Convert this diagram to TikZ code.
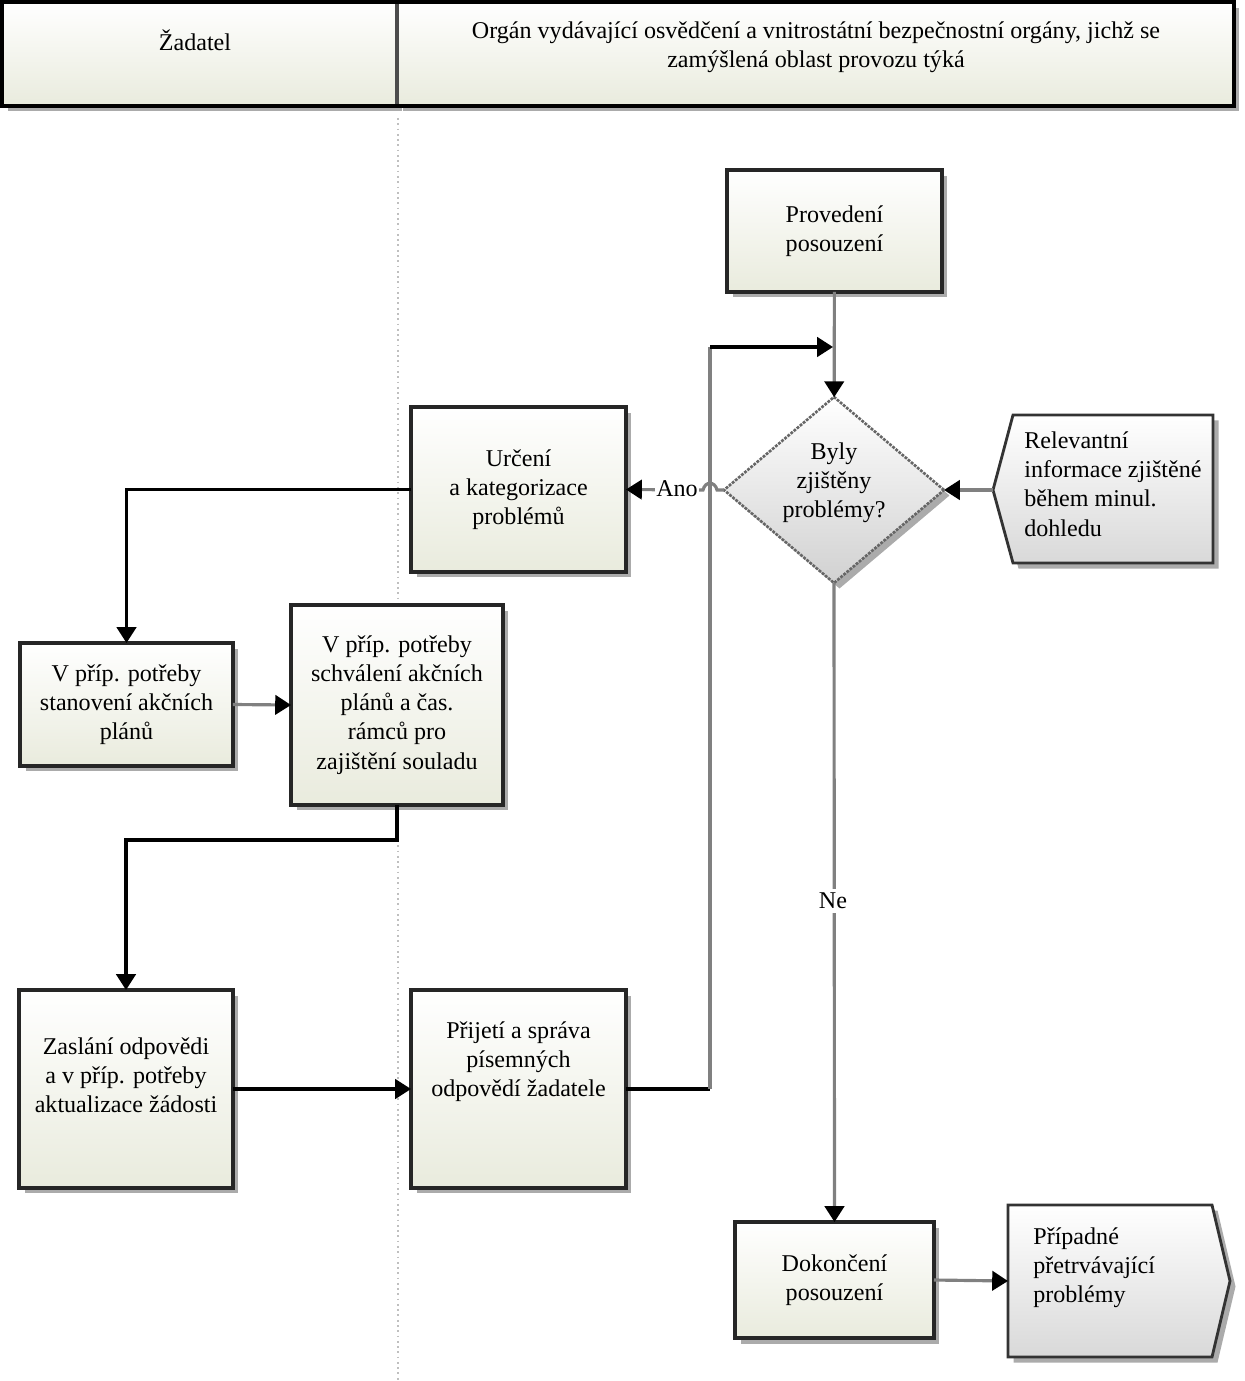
\documentclass[tikz,border=0pt]{standalone}
\usepackage{fontspec}
\setmainfont{Liberation Serif}
\usetikzlibrary{shapes.geometric,shadows,arrows.meta}
\definecolor{boxfill}{RGB}{233,235,221}
\definecolor{linegray}{RGB}{128,128,128}

\begin{document}
\begin{tikzpicture}[x=0.02cm, y=-0.02cm,
        txt/.style={align=center, font=\fontsize{13.7}{16.6}\selectfont, inner sep=0pt},
        shade/.style={drop shadow={shadow xshift=0.11cm, shadow yshift=-0.11cm, fill=black!55, opacity=0.6}},
        box/.style={draw=black!85, line width=2pt, top color=white, bottom color=boxfill, shade, outer sep=0pt, txt},
        hdr/.style={draw=black!70, line width=1.8pt, top color=white, bottom color=boxfill, shade, outer sep=0pt},
        decision/.style={diamond, draw=black!60, line width=1.5pt, dash pattern=on 1.6pt off 0.7pt, top color=white, bottom color=black!18, shade, minimum width=4.4cm, minimum height=3.72cm, inner sep=0pt, outer sep=0pt},
        doc/.style={draw=black!80, line width=1.6pt, top color=white, bottom color=black!15, shade},
        gline/.style={draw=linegray, line width=1.8pt},
        bline/.style={draw=black, line width=1.8pt},
        arrowhd/.style={-{Triangle[length=9pt,width=11pt,color=black]}}]
    \useasboundingbox (0,0) rectangle (1244,1381);

    % lane headers
    \node[hdr, minimum width=7.9cm, minimum height=2.08cm] (lane1) at (199.5,54) {};
    \node[hdr, minimum width=16.74cm, minimum height=2.08cm] (lane2) at (815.5,54) {};
    \draw[line width=2.4pt] (lane1.north west) rectangle (lane2.south east);
    \node[txt] (lane1txt) at (195,40) {Žadatel};
    \node[txt] (lane2txt) at (816,47) {Orgán vydávající osvědčení a vnitrostátní bezpečnostní orgány, jichž se\\zamýšlená oblast provozu týká};
    \coordinate (sepTop) at (398,118);
    \coordinate (sepEnd) at (398,1381);
    \draw[dotted, black!25, line width=1pt] (sepTop) -- (sepEnd);

    % steps
    \node[box, minimum width=4.3cm, minimum height=2.44cm] (prov) at (834.5,231) {Provedení\\posouzení};
    \node[decision] (dec) at (834,490) {};
    \node[txt] (dectxt) at (834,483) {Byly\\zjištěny\\problémy?};
    \node[box, minimum width=4.3cm, minimum height=3.3cm] (urc) at (518.5,489.5) {Určení\\a kategorizace\\problémů};
    \node[box, minimum width=4.26cm, minimum height=2.46cm] (stan) at (126.5,704.5) {V příp. potřeby\\stanovení akčních\\plánů};
    \node[box, minimum width=4.24cm, minimum height=4cm] (schv) at (397,705) {V příp. potřeby\\schválení akčních\\plánů a čas.\\rámců pro\\zajištění souladu};
    \node[box, minimum width=4.28cm, minimum height=3.96cm] (zasl) at (126,1089) {};
    \node[txt] (zasltxt) at (126,1075) {Zaslání odpovědi\\a v příp. potřeby\\aktualizace žádosti};
    \node[box, minimum width=4.3cm, minimum height=3.96cm] (prij) at (518.5,1089) {};
    \node[txt] (prijtxt) at (518.5,1062) {Přijetí a správa\\písemných\\odpovědí žadatele};
    \node[box, minimum width=3.98cm, minimum height=2.32cm] (dok) at (834.5,1280) {Dokončení\\posouzení};

    % input and output
    \coordinate (relTip) at (993,490);
    \path[doc] (relTip) -- (1013,415) -- (1213,415) -- (1213,563) -- (1013,563) -- cycle;
    \node[txt, align=left, anchor=west] (rel) at (1024,484) {Relevantní\\informace zjištěné\\během minul.\\dohledu};
    \coordinate (pripL) at (1008,1281);
    \path[doc] (pripL) -- (1008,1205) -- (1212,1205) -- (1230,1281) -- (1212,1357) -- (1008,1357) -- cycle;
    \node[txt, align=left, anchor=west] (prip) at (1033,1268) {Případné\\přetrvávající\\problémy};

    % connectors
    \draw[gline, arrowhd] (prov) -- (dec);
    \draw[gline, arrowhd] (relTip) -- (dec.east);
    \coordinate (loopTop) at (710,347);
    \coordinate (merge) at (833,347);
    \coordinate (loopBot) at (prij.east -| loopTop);
    \draw[bline] (prij.east) -- (loopBot);
    \draw[gline] (loopBot) -- (loopTop);
    \draw[bline, arrowhd] (loopTop) -- (merge);
    \coordinate (hopR) at (717,490);
    \coordinate (hopL) at (703,490);
    \draw[gline, arrowhd] (dec.west) -- (hopR) .. controls (715,481) and (705,481) .. (hopL) -- (urc.east);
    \node[txt, fill=white, inner sep=1pt] (ano) at (677,489) {Ano};
    \draw[gline, arrowhd] (dec.south) -- (dok.north);
    \node[txt, fill=white, inner sep=2pt] (ne) at (833,901) {Ne};
    \draw[bline, arrowhd] (urc.west) -| (stan.north);
    \draw[gline, arrowhd] (stan.east) -- (schv.west);
    \draw[bline, arrowhd] (schv.south) -- ++(0,35) -| (zasl.north);
    \draw[bline, arrowhd] (zasl.east) -- (prij.west);
    \draw[gline, arrowhd] (dok.east) -- (pripL);
\end{tikzpicture}
\end{document}
